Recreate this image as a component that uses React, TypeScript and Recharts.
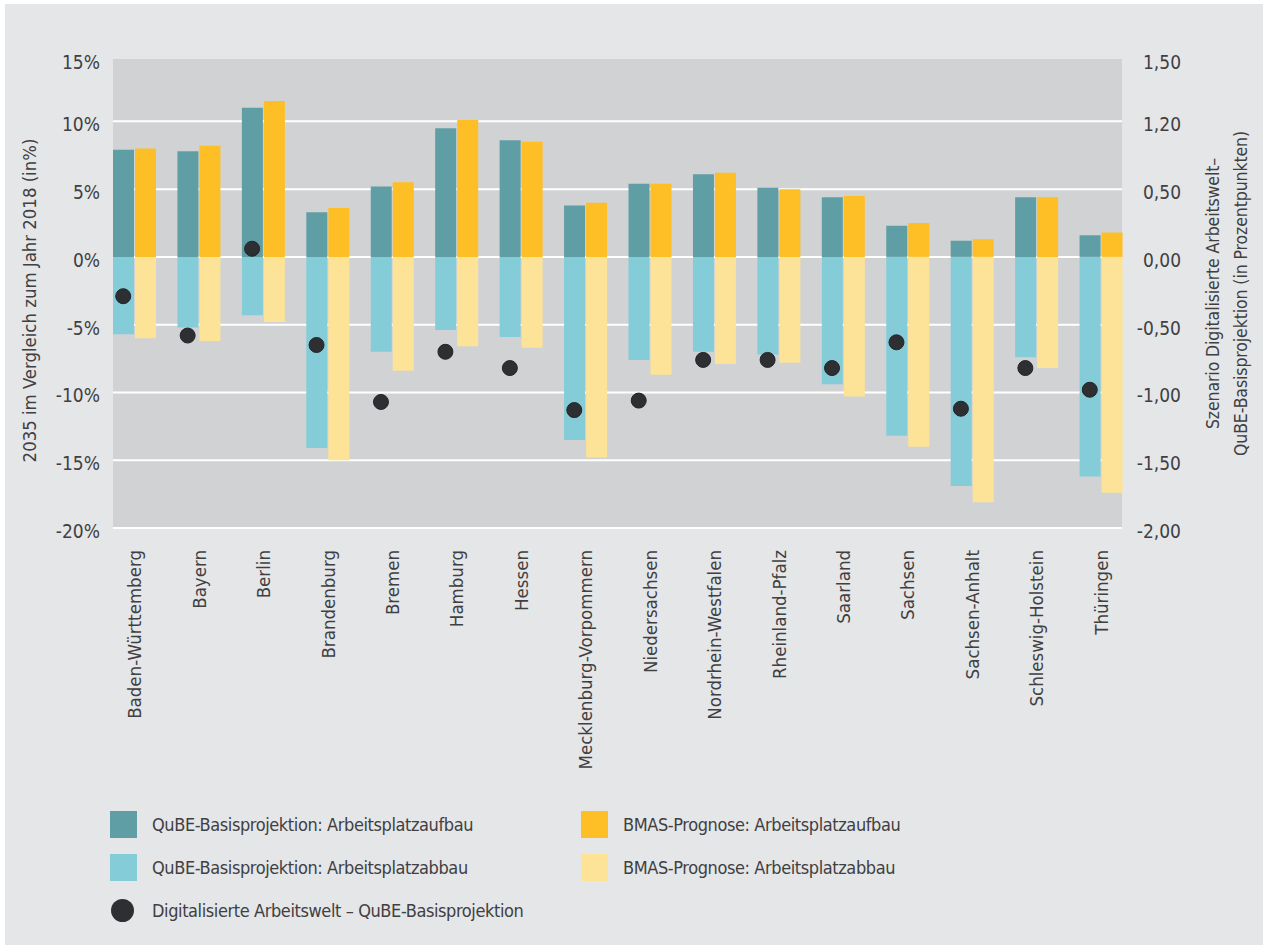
import React from "react";
import {
  ComposedChart,
  Bar,
  Scatter,
  XAxis,
  YAxis,
  CartesianGrid,
  Legend,
} from "recharts";

// ---------- data ----------
const states = [
  "Baden-Württemberg",
  "Bayern",
  "Berlin",
  "Brandenburg",
  "Bremen",
  "Hamburg",
  "Hessen",
  "Mecklenburg-Vorpommern",
  "Niedersachsen",
  "Nordrhein-Westfalen",
  "Rheinland-Pfalz",
  "Saarland",
  "Sachsen",
  "Sachsen-Anhalt",
  "Schleswig-Holstein",
  "Thüringen",
];
const qubeAufbau = [7.9, 7.8, 11.0, 3.3, 5.2, 9.5, 8.6, 3.8, 5.4, 6.1, 5.1, 4.4, 2.3, 1.2, 4.4, 1.6];
const qubeAbbau = [-5.7, -5.2, -4.3, -14.1, -7.0, -5.4, -5.9, -13.5, -7.6, -7.0, -7.2, -9.4, -13.2, -16.9, -7.4, -16.2];
const bmasAufbau = [8.0, 8.2, 11.5, 3.6, 5.5, 10.1, 8.5, 4.0, 5.4, 6.2, 5.0, 4.5, 2.5, 1.3, 4.4, 1.8];
const bmasAbbau = [-6.0, -6.2, -4.8, -15.0, -8.4, -6.6, -6.7, -14.8, -8.7, -7.9, -7.8, -10.3, -14.0, -18.1, -8.2, -17.4];
const digitalPP = [-0.29, -0.58, 0.06, -0.65, -1.07, -0.7, -0.82, -1.13, -1.06, -0.76, -0.76, -0.82, -0.63, -1.12, -0.82, -0.98];

const leftTickValues = [-20, -15, -10, -5, 0, 5, 10, 14.6];
const leftTickLabels = ["-20%", "-15%", "-10%", "-5%", "0%", "5%", "10%", "15%"];
const rightTickValues = [-2, -1.5, -1, -0.5, 0, 0.5, 1, 1.46];
const rightTickLabels = ["-2,00", "-1,50", "-1,00", "-0,50", "0,00", "0,50", "1,20", "1,50"];
const gridValues = [-20, -15, -10, -5, 0, 5, 10];

const seriesNames = {
  qubeAufbau: "QuBE-Basisprojektion: Arbeitsplatzaufbau",
  qubeAbbau: "QuBE-Basisprojektion: Arbeitsplatzabbau",
  bmasAufbau: "BMAS-Prognose: Arbeitsplatzaufbau",
  bmasAbbau: "BMAS-Prognose: Arbeitsplatzabbau",
  digital: "Digitalisierte Arbeitswelt – QuBE-Basisprojektion",
};
const leftAxisTitle = "2035 im Vergleich zum Jahr 2018 (in%)";
const rightAxisTitle = [
  "Szenario Digitalisierte Arbeitswelt–",
  "QuBE-Basisprojektion (in Prozentpunkten)",
];

const data = states.map((s, i) => ({
  state: s,
  qubeAufbau: qubeAufbau[i],
  qubeAbbau: qubeAbbau[i],
  bmasAufbau: bmasAufbau[i],
  bmasAbbau: bmasAbbau[i],
  digital: digitalPP[i],
}));

// ---------- style ----------
const FONT = "'Liberation Sans Narrow', 'DejaVu Sans Condensed', 'Roboto', sans-serif";
const TEXT = "#3f4042";
const C_TEAL = "#5f9ea5";
const C_LBLUE = "#84ccd8";
const C_YEL = "#fdbe26";
const C_LYEL = "#fde397";
const C_DOT = "#2d2f33";
const BAR_SIZE = 21;
const BAR_GAP = 1;

const LeftTick = (props: any) => {
  const { x, y, payload } = props;
  const i = leftTickValues.indexOf(payload.value);
  return (
    <text x={x} y={y} dy={10} textAnchor="end" fill={TEXT} fontSize={19} fontFamily={FONT}>
      {leftTickLabels[i]}
    </text>
  );
};

const RightTick = (props: any) => {
  const { x, y, payload } = props;
  const i = rightTickValues.indexOf(payload.value);
  return (
    <text x={x + 59} y={y} dy={10} textAnchor="end" fill={TEXT} fontSize={19} fontFamily={FONT}>
      {rightTickLabels[i]}
    </text>
  );
};

const XTick = (props: any) => {
  const { x, y, payload } = props;
  return (
    <text
      x={x}
      y={y}
      dy={7}
      textAnchor="end"
      transform={`rotate(-90, ${x}, ${y})`}
      fill={TEXT}
      fontSize={18.5}
      fontFamily={FONT}
    >
      {payload.value}
    </text>
  );
};

const LeftLabel = (props: any) => {
  const vb = props.viewBox;
  const cx = vb.x + 29;
  const cy = vb.y + vb.height / 2 + 7;
  return (
    <text
      x={cx}
      y={cy}
      dy={7}
      textAnchor="middle"
      transform={`rotate(-90, ${cx}, ${cy})`}
      fill={TEXT}
      fontSize={18.4}
      fontFamily={FONT}
    >
      {leftAxisTitle}
    </text>
  );
};

const RightLabel = (props: any) => {
  const vb = props.viewBox;
  const cy = vb.y + vb.height / 2;
  return (
    <g>
      {rightAxisTitle.map((t, k) => {
        const cx = vb.x + 90 + k * 28;
        return (
          <text
            key={k}
            x={cx}
            y={cy}
            dy={7}
            textAnchor="middle"
            transform={`rotate(-90, ${cx}, ${cy})`}
            fill={TEXT}
            fontSize={17.5}
            letterSpacing={-0.1}
            fontFamily={FONT}
          >
            {t}
          </text>
        );
      })}
    </g>
  );
};

const DotShape = (props: any) => {
  const { cx, cy } = props;
  if (cx == null || cy == null) return null;
  return (
    <circle
      cx={cx - (BAR_SIZE + BAR_GAP) / 2}
      cy={cy}
      r={7.5}
      fill={C_DOT}
      stroke="#232428"
      strokeWidth={1}
    />
  );
};

const legendItems = [
  { key: "qubeAufbau", color: C_TEAL, kind: "square", col: 0, row: 0 },
  { key: "bmasAufbau", color: C_YEL, kind: "square", col: 1, row: 0 },
  { key: "qubeAbbau", color: C_LBLUE, kind: "square", col: 0, row: 1 },
  { key: "bmasAbbau", color: C_LYEL, kind: "square", col: 1, row: 1 },
  { key: "digital", color: C_DOT, kind: "circle", col: 0, row: 2 },
];

const LegendContent = () => (
  <div style={{ position: "relative", width: 1268, height: 161 }}>
    {legendItems.map((it) => {
      const left = it.col === 0 ? 110 : 581;
      const top = 23 + it.row * 43;
      return (
        <div
          key={it.key}
          style={{
            position: "absolute",
            left,
            top,
            height: 27,
            display: "flex",
            alignItems: "center",
            whiteSpace: "nowrap",
          }}
        >
          {it.kind === "square" ? (
            <div style={{ width: 27, height: 27, background: it.color }} />
          ) : (
            <div
              style={{
                width: 23,
                height: 23,
                marginLeft: 1,
                marginRight: 3,
                borderRadius: "50%",
                background: it.color,
              }}
            />
          )}
          <span
            style={{
              marginLeft: 15,
              fontFamily: FONT,
              fontSize: 18,
              letterSpacing: -0.4,
              color: TEXT,
            }}
          >
            {(seriesNames as any)[it.key]}
          </span>
        </div>
      );
    })}
  </div>
);

export default function App() {
  return (
    <div
      style={{
        position: "absolute",
        left: 0,
        top: 0,
        width: 1268,
        height: 949,
        background: "#ffffff",
        overflow: "hidden",
      }}
    >
      <div
        style={{
          position: "absolute",
          left: 5,
          top: 4,
          width: 1258,
          height: 941,
          background: "#e5e6e8",
        }}
      />
      <div style={{ position: "absolute", left: 0, top: 0 }}>
        <ComposedChart
          width={1268}
          height={949}
          data={data}
          margin={{ top: 59, right: 0, bottom: 0, left: 0 }}
          barSize={BAR_SIZE}
          barGap={BAR_GAP}
          stackOffset="sign"
        >
          <CartesianGrid
            yAxisId="left"
            vertical={false}
            horizontalValues={gridValues}
            stroke="#ffffff"
            strokeWidth={2}
            fill="#d1d2d4"
            fillOpacity={1}
          />
          <XAxis
            dataKey="state"
            type="category"
            interval={0}
            axisLine={false}
            tickLine={false}
            tickSize={0}
            tickMargin={22}
            height={260}
            padding={{ left: -11, right: -11 }}
            tick={<XTick />}
          />
          <YAxis
            yAxisId="left"
            orientation="left"
            domain={[-20, 14.6]}
            ticks={leftTickValues}
            allowDataOverflow
            width={113}
            axisLine={false}
            tickLine={false}
            tickSize={0}
            tickMargin={13}
            tick={<LeftTick />}
            label={<LeftLabel />}
          />
          <YAxis
            yAxisId="right"
            orientation="right"
            domain={[-2, 1.46]}
            ticks={rightTickValues}
            allowDataOverflow
            width={146}
            axisLine={false}
            tickLine={false}
            tickSize={0}
            tickMargin={0}
            tick={<RightTick />}
            label={<RightLabel />}
          />
          <Legend verticalAlign="bottom" content={<LegendContent />} wrapperStyle={{ left: 0, bottom: 0, width: 1268, height: 161 }} />
          <Bar yAxisId="left" dataKey="qubeAufbau" name={seriesNames.qubeAufbau} stackId="qube" fill={C_TEAL} isAnimationActive={false} />
          <Bar yAxisId="left" dataKey="qubeAbbau" name={seriesNames.qubeAbbau} stackId="qube" fill={C_LBLUE} isAnimationActive={false} />
          <Bar yAxisId="left" dataKey="bmasAufbau" name={seriesNames.bmasAufbau} stackId="bmas" fill={C_YEL} isAnimationActive={false} />
          <Bar yAxisId="left" dataKey="bmasAbbau" name={seriesNames.bmasAbbau} stackId="bmas" fill={C_LYEL} isAnimationActive={false} />
          <Scatter yAxisId="right" dataKey="digital" name={seriesNames.digital} shape={<DotShape />} isAnimationActive={false} />
        </ComposedChart>
      </div>
    </div>
  );
}
